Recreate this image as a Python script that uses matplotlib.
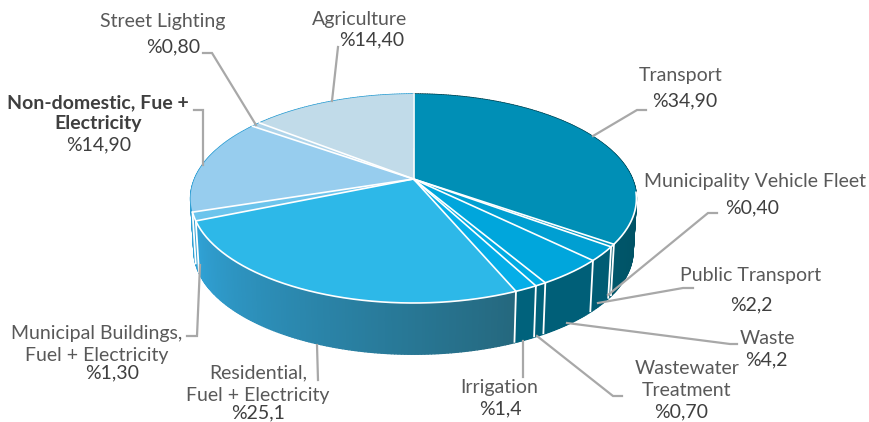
import numpy as np
import matplotlib
matplotlib.use("Agg")
import matplotlib.pyplot as plt
from matplotlib.collections import PolyCollection
from matplotlib.colors import to_rgb

names = ["Transport", "Municipality Vehicle Fleet", "Public Transport", "Waste",
         "Wastewater Treatment", "Irrigation", "Residential, Fuel + Electricity",
         "Municipal Buildings, Fuel + Electricity", "Non-domestic, Fue + Electricity",
         "Street Lighting", "Agriculture"]
values = [34.9, 0.4, 2.2, 4.2, 0.7, 1.4, 25.1, 1.3, 14.9, 0.8, 14.4]
top_colors = ["#008fb6", "#0097c4", "#009fd2", "#00a6dc", "#00abe3", "#05aee8",
              "#2db8e8", "#6cc4ec", "#97cdee", "#afd4ea", "#c1dbe9"]
wall_start = ["#00424f", "#005a70", "#005c74", "#005f78", "#006078", "#00627c",
              "#25687e", "#2f9fd3", "#2f9fd3", "#2f9fd3", "#2f9fd3"]
wall_end = ["#00566a", "#005a70", "#005c74", "#005f78", "#006078", "#00627c",
            "#30a2d6", "#2f9fd3", "#2f9fd3", "#2f9fd3", "#2f9fd3"]

labels = [
    (["Transport", "%34,90"], [(681, 75), (685, 101)], [(593, 136), (637, 110), (646, 110)]),
    (["Municipality Vehicle Fleet", "%0,40"], [(755, 182), (752, 208)], [(608, 295), (708, 213), (717, 213)]),
    (["Public Transport", "%2,2"], [(751, 275), (751, 305)], [(598, 303), (683, 288), (693, 288)]),
    (["Waste", "%4,2"], [(767, 339), (766, 360)], [(567, 323), (730, 344), (737, 344)]),
    (["Wastewater", "Treatment", "%0,70"], [(687, 368), (687, 390), (681, 412)], [(537, 336), (613, 396), (622, 396)]),
    (["Irrigation", "%1,4"], [(499, 387), (500, 409)], [(523, 341), (523, 377)]),
    (["Residential,", "Fuel + Electricity", "%25,1"], [(258, 373), (258, 395), (258, 413)], [(317, 345), (318, 380)]),
    (["Municipal Buildings,", "Fuel + Electricity", "%1,30"], [(97, 334), (97, 355), (112, 373)], [(200, 265), (197, 336), (187, 336)]),
    (["Non-domestic, Fue +", "Electricity", "%14,90"], [(98, 103), (98, 124), (99, 145)], [(203, 165), (203, 110), (194, 110)]),
    (["Street Lighting", "%0,80"], [(163, 22), (173, 47)], [(256, 125), (212, 53), (203, 53)]),
    (["Agriculture", "%14,40"], [(360, 20), (372, 40)], [(332, 101), (338, 47)]),
]
dark_first = {"Non-domestic, Fue +", "Electricity"}

W, H = 869, 422
fig = plt.figure(figsize=(W / 100, H / 100), dpi=100)
ax = fig.add_axes([0, 0, 1, 1])
ax.set_xlim(0, W)
ax.set_ylim(H, 0)
ax.axis("off")

CX, K, A, B, C = 413.5, 219.0, 179.0, -67.46, 0.1866
DEPTH, SHRINK = 52.5, 0.985


def project(theta, bottom=False):
    u, v = np.sin(theta), np.cos(theta)
    w = 1 + C * v
    s = SHRINK if bottom else 1.0
    x = CX + s * K * u / w
    y = (A + s * B * v) / w + (DEPTH if bottom else 0)
    return x, y


frac = np.array(values) / np.sum(values)
edges = np.concatenate([[0], np.cumsum(frac)]) * 2 * np.pi

# side walls, drawn as vertical strips that overlap slightly
for i in range(len(values)):
    t = np.linspace(edges[i], edges[i + 1], max(3, int(values[i] * 5)))
    tx, ty = project(t)
    bx, by = project(t, bottom=True)
    quads, cols = [], []
    c0, c1 = np.array(to_rgb(wall_start[i])), np.array(to_rgb(wall_end[i]))
    for j in range(len(t) - 1):
        quads.append([(tx[j], ty[j]), (tx[j + 1], ty[j + 1]), (bx[j + 1], by[j + 1]), (bx[j], by[j])])
        cols.append(c0 + (c1 - c0) * j / max(1, len(t) - 2))
    ax.add_collection(PolyCollection(quads, facecolors=cols, edgecolors=cols, linewidths=1.0, zorder=2))
    ex, ey = project(edges[i])
    fx, fy = project(edges[i], bottom=True)
    if np.cos(edges[i]) < 0.15:
        ax.plot([ex, fx], [ey, fy], color="white", lw=1.3, zorder=3, solid_capstyle="butt")

# top face
for i in range(len(values)):
    t = np.linspace(edges[i], edges[i + 1], max(3, int(values[i] * 8)))
    x, y = project(t)
    ax.fill(np.r_[CX, x], np.r_[A, y], facecolor=top_colors[i], edgecolor="none", zorder=4)
    ax.plot(np.r_[CX, x[0]], np.r_[A, y[0]], color="white", lw=1.2, zorder=5)
# white rim on the visible front edge
t = np.linspace(1.7, edges[8], 300)
x, y = project(t)
ax.plot(x, y, color="white", lw=1.2, zorder=5)

font = "Lato"
for texts, pos, leader in labels:
    ax.plot(*zip(*leader), color="#a8a8a8", lw=1.6, zorder=6, solid_joinstyle="miter")
    for s, (px, py) in zip(texts, pos):
        isval = s.startswith("%")
        ax.text(px, py, s, ha="center", va="center", fontsize=14, family=font,
                color="#3f3f3f" if (isval or s in dark_first) else "#595959",
                fontweight="bold" if s in dark_first else "normal", zorder=7, clip_on=True)

fig.savefig("out.png", dpi=100)
